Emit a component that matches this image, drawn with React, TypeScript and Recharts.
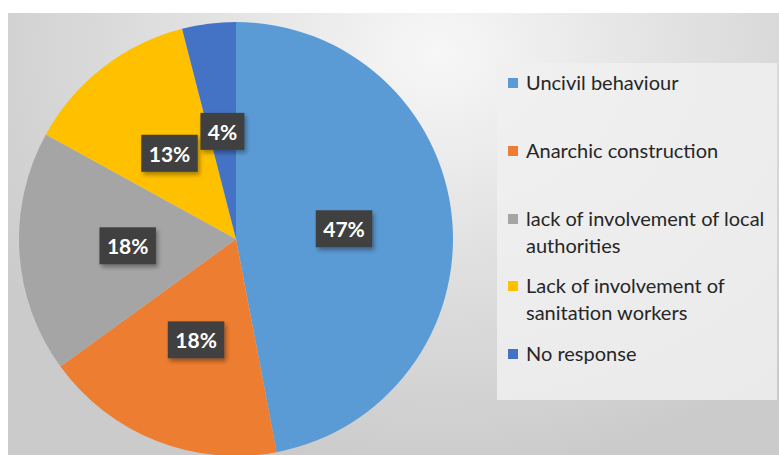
import React from 'react';
import { PieChart, Pie, Cell, Legend } from 'recharts';

const categories = [
  'Uncivil behaviour',
  'Anarchic construction',
  'lack of involvement of local authorities',
  'Lack of involvement of sanitation workers',
  'No response',
];
const shares = [47, 18, 18, 13, 4];
const colors = ['#5B9BD5', '#ED7D31', '#A5A5A5', '#FFC000', '#4472C4'];

const data = categories.map((name, i) => ({ name, value: shares[i] }));

const RADIAN = Math.PI / 180;
const FONT = 'Lato, "Open Sans", sans-serif';

// dark box labels like the Excel data callouts
const renderLabel = (props: any) => {
  const { cx, cy, midAngle, outerRadius, value } = props;
  const r = outerRadius * 0.5;
  const x = cx + r * Math.cos(-midAngle * RADIAN);
  const y = cy + r * Math.sin(-midAngle * RADIAN);
  const text = `${value}%`;
  const w = text.length * 12.5 + 19;
  const h = 37;
  return (
    <g>
      <rect x={x - w / 2} y={y - h / 2} width={w} height={h} fill="#404040" filter="url(#boxShadow)" />
      <text
        x={x}
        y={y}
        fill="#ffffff"
        textAnchor="middle"
        dominantBaseline="central"
        fontFamily={FONT}
        fontWeight={700}
        fontSize={21}
      >
        {text}
      </text>
    </g>
  );
};

// gaps between legend entries, in px
const legendGaps = [0, 41, 41, 13, 14];

const renderLegend = (props: any) => {
  // keep the original series order (recharts sorts the payload by name)
  const payload = [...(props.payload || [])].sort(
    (a: any, b: any) => categories.indexOf(a.value) - categories.indexOf(b.value)
  );
  return (
    <div
      style={{
        width: 280,
        height: 337,
        background: 'rgba(240,240,240,0.85)',
        paddingTop: 6,
        boxSizing: 'border-box',
        fontFamily: FONT,
        fontSize: 20,
        lineHeight: '27px',
        color: '#262626',
      }}
    >
      {payload.map((entry: any, i: number) => (
        <div key={entry.value} style={{ display: 'flex', marginTop: legendGaps[i] }}>
          <div
            style={{
              width: 10,
              height: 10,
              background: colors[categories.indexOf(entry.value)],
              marginLeft: 11,
              marginTop: 9,
              flexShrink: 0,
            }}
          />
          <div style={{ width: 252, marginLeft: 8, textAlign: 'left' }}>{entry.value}</div>
        </div>
      ))}
    </div>
  );
};

export default function App() {
  return (
    <div style={{ position: 'absolute', left: 0, top: 0, width: 779, height: 455, background: '#ffffff', overflow: 'hidden' }}>
      <div
        style={{
          position: 'absolute',
          left: 8,
          top: 13,
          width: 771,
          height: 442,
          background: 'radial-gradient(ellipse 520px 420px at 430px 40px, #f7f7f7 0%, #e2e2e2 45%, #cbcbcb 100%)',
        }}
      />
      <div style={{ position: 'absolute', left: 0, top: 0 }}>
        <PieChart width={779} height={455} margin={{ top: 0, right: 0, bottom: 0, left: 0 }}>
          <defs>
            <filter id="boxShadow" x="-20%" y="-20%" width="150%" height="160%">
              <feDropShadow dx="2" dy="3" stdDeviation="2" floodColor="#000" floodOpacity="0.35" />
            </filter>
          </defs>
          <Pie
            data={data}
            dataKey="value"
            nameKey="name"
            cx={236}
            cy={239}
            outerRadius={217}
            startAngle={90}
            endAngle={-270}
            stroke="none"
            labelLine={false}
            label={renderLabel}
            isAnimationActive={false}
          >
            {data.map((d, i) => (
              <Cell key={d.name} fill={colors[i]} />
            ))}
          </Pie>
          <Legend
            layout="vertical"
            content={renderLegend}
            wrapperStyle={{ position: 'absolute', left: 497, top: 63, width: 280, height: 337 }}
          />
        </PieChart>
      </div>
    </div>
  );
}
